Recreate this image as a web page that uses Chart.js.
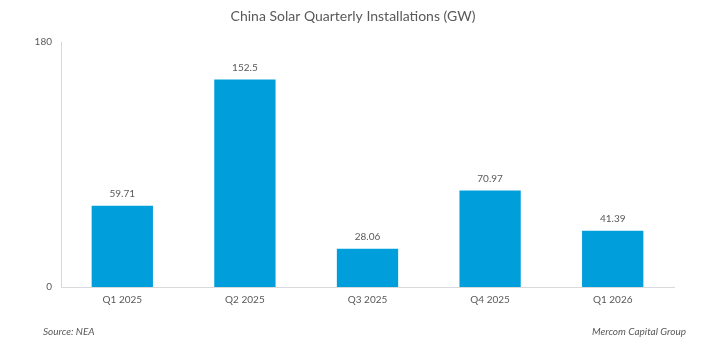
<!DOCTYPE html>
<html>
<head>
<meta charset="utf-8">
<script src="https://cdn.jsdelivr.net/npm/chart.js@4/dist/chart.umd.min.js"></script>
<style>
html,body{margin:0;padding:0;background:#fff;}
#wrap{width:706px;height:353px;position:relative;}
</style>
</head>
<body>
<div id="wrap"><canvas id="c" width="706" height="353"></canvas></div>
<script>
const categories = ["Q1 2025", "Q2 2025", "Q3 2025", "Q4 2025", "Q1 2026"];
const installations = [59.71, 152.5, 28.06, 70.97, 41.39];
const valueLabels = ["59.71", "152.5", "28.06", "70.97", "41.39"];
const yTicks = [0, 180];
const chartTitle = "China Solar Quarterly Installations (GW)";
const sourceText = "Source: NEA";
const creditText = "Mercom Capital Group";

const FONT = "Lato, 'Open Sans', 'Liberation Sans', sans-serif";
const TEXT = "#595959";

const labelPlugin = {
  id: "valueLabels",
  afterDatasetsDraw(chart) {
    const ctx = chart.ctx;
    const meta = chart.getDatasetMeta(0);
    ctx.save();
    ctx.font = "10px " + FONT;
    ctx.fillStyle = TEXT;
    ctx.textAlign = "center";
    ctx.textBaseline = "bottom";
    meta.data.forEach((bar, i) => {
      ctx.fillText(valueLabels[i], bar.x, bar.y - 7);
    });
    ctx.restore();
  }
};

const decorPlugin = {
  id: "decor",
  afterDraw(chart) {
    const ctx = chart.ctx;
    ctx.save();
    ctx.fillStyle = TEXT;
    ctx.font = "14px " + FONT;
    ctx.textAlign = "center";
    ctx.textBaseline = "middle";
    ctx.fillText(chartTitle, chart.width / 2, 16);
    ctx.font = "italic 10px " + FONT;
    ctx.textAlign = "left";
    ctx.fillText(sourceText, 43, 332);
    ctx.textAlign = "right";
    ctx.fillText(creditText, 686, 332);
    ctx.restore();
  }
};

new Chart(document.getElementById("c"), {
  type: "bar",
  data: {
    labels: categories,
    datasets: [{
      data: installations,
      backgroundColor: "#009FDB",
      borderWidth: 0,
      barPercentage: 0.5,
      categoryPercentage: 1.0
    }]
  },
  options: {
    responsive: false,
    animation: false,
    devicePixelRatio: 1,
    layout: { padding: { top: 42, right: 32, left: 0, bottom: 0 } },
    plugins: { legend: { display: false }, title: { display: false }, tooltip: { enabled: false } },
    scales: {
      x: {
        grid: { display: false, drawTicks: false },
        border: { color: "#D9D9D9", width: 1 },
        ticks: { color: TEXT, font: { family: FONT, size: 10 }, padding: 7, maxRotation: 0 },
        afterFit(scale) { scale.height = 66; }
      },
      y: {
        min: 0,
        max: 180,
        grid: { display: false, drawTicks: false },
        border: { color: "#D9D9D9", width: 1 },
        ticks: { color: TEXT, font: { family: FONT, size: 10 }, padding: 9 },
        afterBuildTicks(scale) { scale.ticks = yTicks.map(v => ({ value: v })); },
        afterFit(scale) { scale.width = 61; }
      }
    }
  },
  plugins: [labelPlugin, decorPlugin]
});
</script>
</body>
</html>
